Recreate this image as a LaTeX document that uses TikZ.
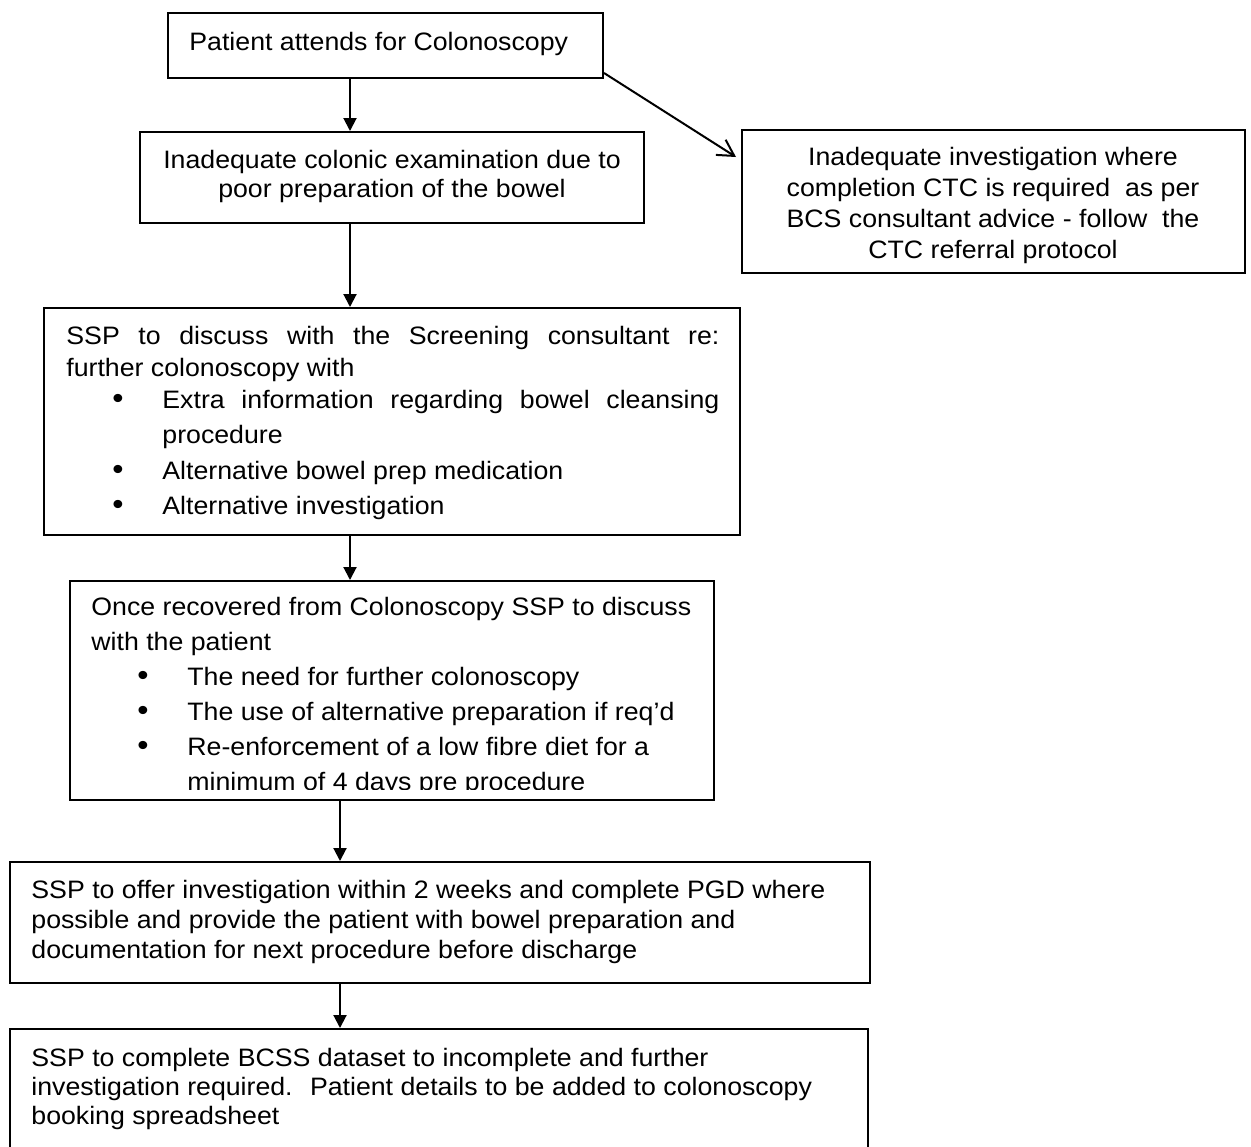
\documentclass[tikz,border=0pt]{standalone}
\usepackage{fontspec}
\usepackage{graphicx}
\setmainfont{Liberation Sans}[FakeStretch=1.06]
\usetikzlibrary{arrows.meta,fit}

\newcommand{\fixsp}{\spaceskip=\fontdimen2\font\xspaceskip=0pt\relax}
\newcommand{\bigdot}{\raisebox{-0.3pt}{\scalebox{1.2}{\textbullet}}}
\newcommand{\blt}{\hspace*{23pt}\makebox[25pt][l]{\bigdot}}
\newcommand{\ind}{\hspace*{48pt}}
\newcommand{\spread}[2]{\makebox[#1][s]{\spaceskip=0pt\xspaceskip=0pt\relax #2}}

\tikzset{
    box/.style={draw, line width=1pt, inner sep=0pt},
    txt/.style={inner sep=0pt, anchor=base west, align=left, execute at begin node=\fixsp},
    ctr/.style={inner sep=0pt, anchor=base, align=center, execute at begin node=\fixsp},
    down/.style={-{Triangle[length=6.5pt,width=6.5pt]}, line width=1pt},
    side/.style={-{Straight Barb[length=8pt,width=9pt]}, line width=1pt}
}

\begin{document}
\begin{tikzpicture}[x=0.5pt, y=-0.5pt]
    \useasboundingbox (0,0) rectangle (1251,1146);

    \node[box, fit={(168,13) (603,78)}] (attend) {};
    \node[box, fit={(140,132) (644,223)}] (poorprep) {};
    \node[box, fit={(742,130) (1245,273)}] (ctc) {};
    \node[box, fit={(44,308) (740,535)}] (discuss) {};
    \node[box, fit={(70,581) (714,800)}] (recover) {};
    \node[box, fit={(10,862) (870,983)}] (offer) {};
    \node[box, fit={(10,1029) (868,1180)}] (dataset) {};

    \node[txt, font=\fontsize{12.6}{15}\selectfont] (attendtxt) at (189,50) {Patient attends for Colonoscopy};
    \node[ctr, text width=260pt, font=\fontsize{12.6}{14.5}\selectfont] (poorpreptxt) at (392,168)
        {Inadequate colonic examination due to\\poor preparation of the bowel};
    \node[ctr, text width=245pt, font=\fontsize{12.6}{15.5}\selectfont] (ctctxt) at (993,165)
        {Inadequate investigation where\\completion CTC is required~ as per\\BCS consultant advice - follow~ the\\CTC referral protocol};
    \node[txt, text width=326.5pt, font=\fontsize{12.6}{15.5}\selectfont] (discusstxt) at (66,344)
        {\spread{\linewidth}{SSP to discuss with the Screening consultant re:}\\[0.5pt]
         further colonoscopy with\\[0.5pt]
         \blt\spread{278.5pt}{Extra information regarding bowel cleansing}\\[2pt]
         \ind procedure\\[2.5pt]
         \blt Alternative bowel prep medication\\[2pt]
         \blt Alternative investigation};
    \begin{scope}
        \clip (70,581) rectangle (714,789);
        \node[txt, text width=311pt, font=\fontsize{12.6}{17.5}\selectfont] (recovertxt) at (91,615)
            {Once recovered from Colonoscopy SSP to discuss\\
             with the patient\\
             \blt The need for further colonoscopy\\
             \blt The use of alternative preparation if req’d\\
             \blt Re-enforcement of a low fibre diet for a\\
             \ind minimum of 4 days pre procedure};
    \end{scope}
    \node[txt, text width=430pt, font=\fontsize{12.6}{15}\selectfont] (offertxt) at (31,898)
        {SSP to offer investigation within 2 weeks and complete PGD where\\
         possible and provide the patient with bowel preparation and\\
         documentation for next procedure before discharge};
    \node[txt, text width=430pt, font=\fontsize{12.6}{14.5}\selectfont] (datasettxt) at (31,1066)
        {SSP to complete BCSS dataset to incomplete and further\\
         investigation required.~ Patient details to be added to colonoscopy\\
         booking spreadsheet};

    \coordinate (upper) at (350,0);
    \coordinate (lower) at (340,0);
    \draw[down] (attend.south -| upper) -- (poorprep.north -| upper);
    \draw[down] (poorprep.south -| upper) -- (discuss.north -| upper);
    \draw[down] (discuss.south -| upper) -- (recover.north -| upper);
    \draw[down] (recover.south -| lower) -- (offer.north -| lower);
    \draw[down] (offer.south -| lower) -- (dataset.north -| lower);
    \draw[side] ([yshift=3pt]attend.south east) -- ([xshift=-2.5pt,yshift=-14pt]ctc.north west);
\end{tikzpicture}
\end{document}
